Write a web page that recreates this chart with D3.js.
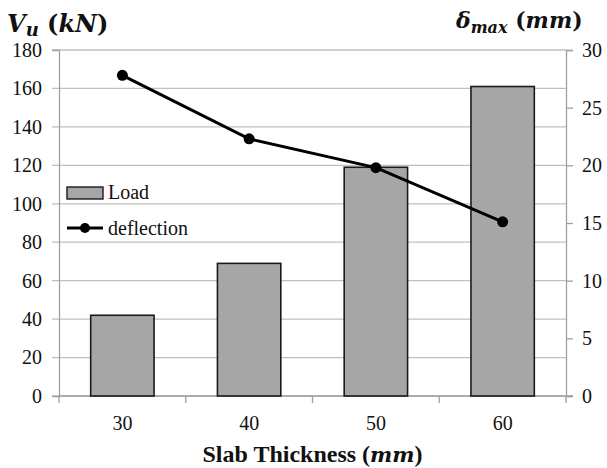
<!DOCTYPE html>
<html>
<head>
<meta charset="utf-8">
<script src="https://cdn.jsdelivr.net/npm/d3@7"></script>
<style>
  body { margin: 0; background: #fff; }
</style>
</head>
<body>
<div id="chart"></div>
<script>
const thickness = ["30", "40", "50", "60"];
const load = [42, 69, 119, 161];
const deflection = [27.8, 22.3, 19.8, 15.1];
const loadTicks = [0, 20, 40, 60, 80, 100, 120, 140, 160, 180];
const deflTicks = [0, 5, 10, 15, 20, 25, 30];

const serif = "Liberation Serif";
const mathFont = "DejaVu Serif";

const width = 607, height = 468;
const margin = { top: 50, right: 41, bottom: 72, left: 59 };

const svg = d3.select("#chart").append("svg")
  .attr("width", width)
  .attr("height", height);

const x = d3.scaleBand()
  .domain(thickness)
  .range([margin.left, width - margin.right])
  .paddingInner(0.5)
  .paddingOuter(0.25);

const yLeft = d3.scaleLinear().domain([0, 180]).range([height - margin.bottom, margin.top]);
const yRight = d3.scaleLinear().domain([0, 30]).range([height - margin.bottom, margin.top]);

// gridlines
svg.append("g")
  .selectAll("line")
  .data(loadTicks)
  .join("line")
  .attr("x1", margin.left - 7)
  .attr("x2", width - margin.right)
  .attr("y1", d => yLeft(d))
  .attr("y2", d => yLeft(d))
  .attr("stroke", "#c0c0c0")
  .attr("stroke-width", 1.3);

// left axis
const leftAxis = svg.append("g")
  .attr("transform", `translate(${margin.left},0)`)
  .call(d3.axisLeft(yLeft).tickValues(loadTicks).tickSize(7).tickPadding(10));
leftAxis.select(".domain").attr("stroke", "#a0a0a0").attr("stroke-width", 1.3);
leftAxis.selectAll(".tick line").attr("stroke", "none");

// right axis
const rightAxis = svg.append("g")
  .attr("transform", `translate(${width - margin.right},0)`)
  .call(d3.axisRight(yRight).tickValues(deflTicks).tickSize(7).tickPadding(9));
rightAxis.select(".domain").attr("stroke", "#a0a0a0").attr("stroke-width", 1.3);
rightAxis.selectAll(".tick line").attr("stroke", "#a0a0a0").attr("stroke-width", 1.3);

// bottom axis
const step = x.step();
const bottomAxis = svg.append("g")
  .attr("transform", `translate(0,${height - margin.bottom})`)
  .call(d3.axisBottom(x).tickSize(0).tickPadding(20));
bottomAxis.select(".domain").remove();
svg.append("line")
  .attr("x1", margin.left).attr("x2", width - margin.right + 7)
  .attr("y1", height - margin.bottom).attr("y2", height - margin.bottom)
  .attr("stroke", "#a0a0a0").attr("stroke-width", 1.3);
svg.append("g")
  .selectAll("line")
  .data(d3.range(thickness.length + 1))
  .join("line")
  .attr("x1", i => margin.left + i * step)
  .attr("x2", i => margin.left + i * step)
  .attr("y1", height - margin.bottom)
  .attr("y2", height - margin.bottom + 7)
  .attr("stroke", "#a0a0a0").attr("stroke-width", 1.3);

// tick label styling, set straight on each text
svg.selectAll(".tick text")
  .attr("font-family", serif)
  .attr("font-size", 20)
  .attr("fill", "#111");

// bars
svg.append("g")
  .selectAll("rect")
  .data(load)
  .join("rect")
  .attr("x", (d, i) => x(thickness[i]))
  .attr("width", x.bandwidth())
  .attr("y", d => yLeft(d))
  .attr("height", d => yLeft(0) - yLeft(d))
  .attr("fill", "#a6a6a6")
  .attr("stroke", "#1a1a1a")
  .attr("stroke-width", 1.6);

// deflection line
const line = d3.line()
  .x((d, i) => x(thickness[i]) + x.bandwidth() / 2)
  .y(d => yRight(d));

svg.append("path")
  .datum(deflection)
  .attr("d", line)
  .attr("fill", "none")
  .attr("stroke", "#000")
  .attr("stroke-width", 3);

svg.append("g")
  .selectAll("circle")
  .data(deflection)
  .join("circle")
  .attr("cx", (d, i) => x(thickness[i]) + x.bandwidth() / 2)
  .attr("cy", d => yRight(d))
  .attr("r", 5.5)
  .attr("fill", "#000");

// legend
const legend = svg.append("g").attr("transform", "translate(67,187)");
legend.append("rect")
  .attr("width", 36).attr("height", 12)
  .attr("fill", "#a6a6a6").attr("stroke", "#1a1a1a").attr("stroke-width", 1.4);
legend.append("text")
  .attr("x", 41).attr("y", 12)
  .attr("font-family", serif)
  .attr("font-size", 20).attr("fill", "#111")
  .text("Load");
legend.append("line")
  .attr("x1", 0).attr("x2", 36).attr("y1", 41).attr("y2", 41)
  .attr("stroke", "#000").attr("stroke-width", 3);
legend.append("circle")
  .attr("cx", 18).attr("cy", 41).attr("r", 5)
  .attr("fill", "#000");
legend.append("text")
  .attr("x", 41).attr("y", 48)
  .attr("font-family", serif)
  .attr("font-size", 20).attr("fill", "#111")
  .text("deflection");

// axis titles
const leftTitle = svg.append("text")
  .attr("x", 7).attr("y", 32)
  .attr("font-family", mathFont)
  .attr("font-size", 24)
  .attr("font-weight", "bold")
  .attr("fill", "#111");
leftTitle.append("tspan").attr("font-style", "italic").text("V");
leftTitle.append("tspan").attr("font-style", "italic").attr("font-size", 18).attr("dy", 4).text("u");
leftTitle.append("tspan").attr("dy", -4).text(" (");
leftTitle.append("tspan").attr("font-style", "italic").text("kN");
leftTitle.append("tspan").text(")");

const rightTitle = svg.append("text")
  .attr("x", 456).attr("y", 28)
  .attr("font-family", mathFont)
  .attr("font-size", 22)
  .attr("font-weight", "bold")
  .attr("fill", "#111");
rightTitle.append("tspan").attr("font-style", "italic").text("δ");
rightTitle.append("tspan").attr("font-style", "italic").attr("font-size", 16).attr("dy", 5).text("max");
rightTitle.append("tspan").attr("dy", -5).text(" (");
rightTitle.append("tspan").attr("font-style", "italic").text("mm");
rightTitle.append("tspan").text(")");

const xTitle = svg.append("text")
  .attr("x", (margin.left + width - margin.right) / 2)
  .attr("y", 462)
  .attr("text-anchor", "middle")
  .attr("font-family", serif)
  .attr("font-size", 24)
  .attr("font-weight", "bold")
  .attr("fill", "#111");
xTitle.append("tspan").text("Slab Thickness (");
xTitle.append("tspan").attr("font-family", mathFont).attr("font-style", "italic").attr("font-size", 21).text("mm");
xTitle.append("tspan").text(")");
</script>
</body>
</html>
